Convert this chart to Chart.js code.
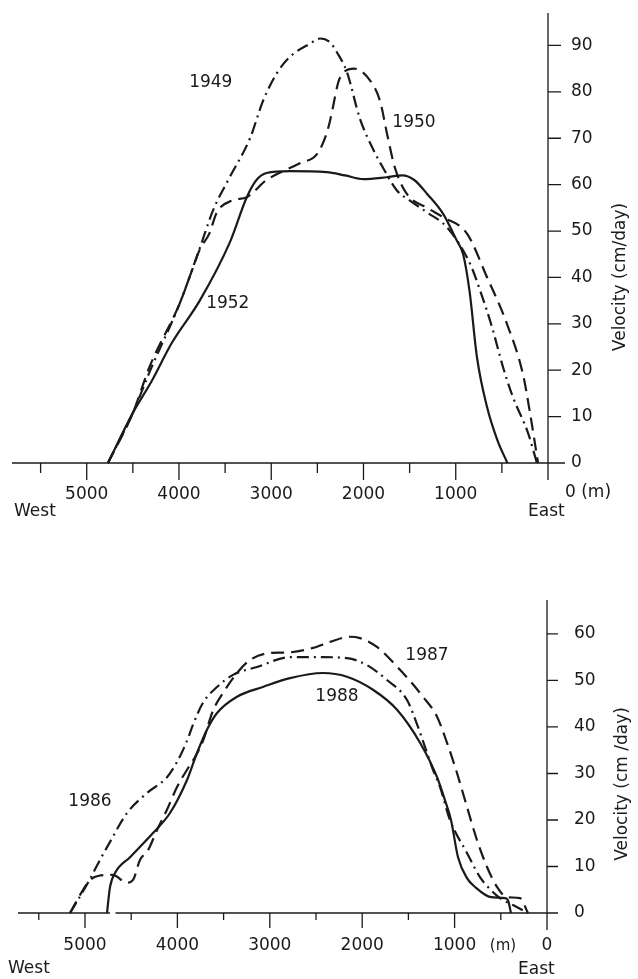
<!DOCTYPE html>
<html lang="en">
<head>
<meta charset="UTF-8">
<title>Velocity profiles</title>
<script src="https://cdn.jsdelivr.net/npm/chart.js"></script>
<style>
  body { margin: 0; background: #fff; }
  #wrap { position: relative; width: 638px; height: 979px; }
  canvas { position: absolute; left: 0; }
  #top-chart { top: 0; }
  #bottom-chart { top: 530px; }
</style>
</head>
<body>
<div id="wrap">
  <canvas id="top-chart" width="638" height="530"></canvas>
  <canvas id="bottom-chart" width="638" height="449"></canvas>
</div>
<script>
// distance from the east margin (m) and surface velocity (cm/day)

// upper panel
var dist1949 = [4770, 4500, 4300, 4000, 3780, 3630, 3450, 3230, 3090, 2940, 2800, 2580, 2470, 2364, 2290, 2180, 2040, 1880, 1790, 1640, 1500, 1310, 1095, 846, 738, 607, 488, 380, 217, 120];
var vel1949  = [0, 10.8, 20.5, 34, 46, 54.5, 61.6, 70, 78, 84, 87.5, 90.4, 91.5, 90.7, 88.6, 84.3, 74.3, 67, 63.7, 58.8, 56.6, 54, 50.8, 43, 37.3, 29.3, 20.7, 14.2, 6.5, 0];

var dist1950 = [4770, 4500, 4320, 3990, 3850, 3775, 3670, 3590, 3420, 3265, 3050, 2690, 2500, 2400, 2360, 2256, 2100, 1930, 1820, 1745, 1660, 1530, 1310, 1140, 880, 660, 445, 270, 195, 108];
var vel1950  = [0, 10.8, 20.7, 34.5, 42, 46, 49.5, 54, 56.6, 57.3, 61, 64.6, 66.7, 71, 74, 83, 85, 82.5, 78, 71, 63.7, 58, 55, 53, 49.5, 40, 30, 19, 10.8, 0];

var dist1952 = [4770, 4500, 4300, 4080, 3775, 3450, 3265, 3160, 3050, 2800, 2400, 2200, 2000, 1750, 1580, 1450, 1310, 1140, 990, 920, 850, 770, 660, 550, 440];
var vel1952  = [0, 10.8, 17.5, 25.8, 35, 47.5, 57.3, 61, 62.5, 62.9, 62.7, 62, 61.2, 61.6, 62, 61, 58, 53.8, 48, 45, 37, 22.8, 12, 5, 0];

// lower panel
var dist1986 = [5162, 4968, 4838, 4729, 4545, 4329, 4113, 4004, 3896, 3831, 3723, 3571, 3398, 3139, 2781, 2424, 2165, 1948, 1732, 1515, 1396, 1234, 1158, 1050, 866, 725, 639, 509, 368, 206];
var vel1986  = [0, 6.5, 11.4, 15.3, 21.5, 25.8, 29.2, 32.5, 37, 40.5, 45.2, 48.6, 51.2, 52.9, 55, 55, 54.8, 53.3, 50.1, 45.8, 40, 30.8, 27.1, 20, 12.9, 7.7, 5.6, 3.2, 1.7, 0];

var dist1987 = [5162, 5050, 4950, 4850, 4700, 4545, 4480, 4405, 4318, 4221, 4113, 4004, 3896, 3810, 3723, 3615, 3506, 3355, 3214, 2998, 2814, 2532, 2348, 2132, 2024, 1840, 1591, 1342, 1190, 1082, 974, 866, 758, 649, 541, 433, 292, 206];
var vel1987  = [0, 4, 7, 8, 8.2, 6.5, 7.1, 11.4, 13.5, 17.8, 22.2, 27.1, 30.8, 33.5, 37, 43.5, 47.3, 51.6, 54.4, 55.9, 56, 57, 58.3, 59.4, 59.1, 57.2, 52.3, 46.5, 42.2, 36.6, 30.1, 22.8, 15.7, 9.9, 5.6, 3.4, 3.2, 0];

var dist1988 = [4762, 4729, 4675, 4513, 4264, 4080, 3896, 3788, 3680, 3571, 3355, 3074, 2781, 2424, 2165, 1883, 1623, 1374, 1190, 1100, 1039, 963, 866, 779, 606, 455, 420, 390];
var vel1988  = [0, 5.6, 8.6, 12, 17.2, 21.5, 28.6, 34.4, 39.4, 43, 46.5, 48.6, 50.5, 51.6, 50.8, 48, 43.7, 36.6, 29.2, 24, 20, 12, 7.5, 5.6, 3.4, 3.2, 2.6, 0];

// axes
var xTickLabels = [5000, 4000, 3000, 2000, 1000, 0];
var xMarks = [0, 500, 1000, 1500, 2000, 2500, 3000, 3500, 4000, 4500, 5000, 5500];
var yTicksTop = [0, 10, 20, 30, 40, 50, 60, 70, 80, 90];
var yTicksBottom = [0, 10, 20, 30, 40, 50, 60];

var FONT = '"DejaVu Sans", sans-serif';
var INK = '#1a1a1a';
var SOLID = [];
var DASHED = [13, 7];
var DASHDOT = [12, 5, 2, 5];

function points(xs, vs) {
  return xs.map(function(x, i) { return { x: x, y: vs[i] }; });
}

function series(label, xs, vs, dash) {
  return {
    label: label,
    data: points(xs, vs),
    borderColor: INK,
    borderWidth: 2.2,
    borderDash: dash,
    pointRadius: 0,
    fill: false,
    clip: false,
    cubicInterpolationMode: 'monotone'
  };
}

// axis lines, tick marks and the loose texts of the figure
var axisDecor = {
  id: 'axisDecor',
  afterDraw: function(chart) {
    var o = chart.options.plugins.axisDecor;
    var ctx = chart.ctx, a = chart.chartArea;
    var xs = chart.scales.x, ys = chart.scales.y;
    ctx.save();
    ctx.strokeStyle = INK;
    ctx.lineWidth = 1.3;
    ctx.setLineDash([]);
    ctx.beginPath();
    if (o.gap) {
      ctx.moveTo(a.left, a.bottom);
      ctx.lineTo(xs.getPixelForValue(o.gap[0]), a.bottom);
      ctx.moveTo(xs.getPixelForValue(o.gap[1]), a.bottom);
    } else {
      ctx.moveTo(a.left, a.bottom);
    }
    ctx.lineTo(a.right + o.xOver, a.bottom);
    ctx.moveTo(a.right, a.top);
    ctx.lineTo(a.right, a.bottom + o.yUnder);
    xMarks.forEach(function(v) {
      var px = xs.getPixelForValue(v);
      ctx.moveTo(px, a.bottom);
      ctx.lineTo(px, a.bottom + (v % 1000 === 0 ? o.major : o.minor));
    });
    o.yTicks.forEach(function(v) {
      var py = ys.getPixelForValue(v);
      ctx.moveTo(a.right, py);
      ctx.lineTo(a.right + o.yTickLen, py);
    });
    ctx.stroke();

    ctx.fillStyle = INK;
    ctx.textBaseline = 'middle';
    o.texts.forEach(function(t) {
      ctx.font = (t.size || 17) + 'px ' + FONT;
      ctx.textAlign = t.align || 'left';
      ctx.fillText(t.text, t.x, t.y);
    });
    ctx.font = '17px ' + FONT;
    ctx.textAlign = 'center';
    o.names.forEach(function(n) {
      ctx.fillText(n.text, xs.getPixelForValue(n.x), ys.getPixelForValue(n.y));
    });
    ctx.save();
    ctx.translate(o.title.x, o.title.y);
    ctx.rotate(-Math.PI / 2);
    ctx.fillText(o.title.text, 0, 0);
    ctx.restore();
    ctx.restore();
  }
};

function makeChart(id, cfg) {
  return new Chart(document.getElementById(id), {
    type: 'line',
    data: { datasets: cfg.datasets },
    plugins: [axisDecor],
    options: {
      responsive: false,
      animation: false,
      layout: { padding: { left: cfg.left, top: cfg.top, right: 0, bottom: 0 } },
      plugins: {
        legend: { display: false },
        tooltip: { enabled: false },
        axisDecor: cfg.decor
      },
      scales: {
        x: {
          type: 'linear',
          reverse: true,
          min: 0,
          max: cfg.xMax,
          afterFit: function(s) { s.height = cfg.xHeight; },
          afterBuildTicks: function(s) { s.ticks = xTickLabels.map(function(v) { return { value: v }; }); },
          // tick marks are drawn by the plugin; tickLength only offsets the labels
          grid: { display: false, drawTicks: true, tickLength: cfg.xPad },
          border: { display: false },
          ticks: {
            autoSkip: false,
            maxRotation: 0,
            padding: 0,
            color: INK,
            font: { family: FONT, size: 17 },
            callback: function(v) { return v === 0 ? cfg.zeroLabel : String(v); }
          }
        },
        y: {
          type: 'linear',
          position: 'right',
          min: 0,
          max: cfg.yMax,
          afterFit: function(s) { s.width = cfg.yWidth; },
          afterBuildTicks: function(s) { s.ticks = cfg.yTicks.map(function(v) { return { value: v }; }); },
          grid: { display: false, drawTicks: true, tickLength: cfg.yPad },
          border: { display: false },
          ticks: {
            padding: 0,
            color: INK,
            font: { family: FONT, size: 17 }
          }
        }
      }
    }
  });
}

makeChart('top-chart', {
  datasets: [
    series('1949', dist1949, vel1949, DASHDOT),
    series('1950', dist1950, vel1950, DASHED),
    series('1952', dist1952, vel1952, SOLID)
  ],
  left: 12, top: 13, xHeight: 67, yWidth: 90,
  xMax: 5810, yMax: 97, xPad: 21, yPad: 23,
  yTicks: yTicksTop,
  zeroLabel: '',
  decor: {
    xOver: 17, yUnder: 14, major: 17, minor: 10, yTickLen: 13,
    yTicks: yTicksTop,
    texts: [
      { text: 'West', x: 14, y: 512 },
      { text: 'East', x: 528, y: 512 },
      { text: '0 (m)', x: 565, y: 493 }
    ],
    names: [
      { text: '1949', x: 3655, y: 82 },
      { text: '1950', x: 1453, y: 73.4 },
      { text: '1952', x: 3471, y: 34.4 }
    ],
    title: { text: 'Velocity (cm/day)', x: 621, y: 277 }
  }
});

makeChart('bottom-chart', {
  datasets: [
    series('1986', dist1986, vel1986, DASHDOT),
    series('1987', dist1987, vel1987, DASHED),
    series('1988', dist1988, vel1988, SOLID)
  ],
  left: 18, top: 70, xHeight: 66, yWidth: 91,
  xMax: 5725, yMax: 67.3, xPad: 22, yPad: 27,
  yTicks: yTicksBottom,
  zeroLabel: '0',
  decor: {
    xOver: 11, yUnder: 17, major: 15, minor: 7, yTickLen: 11,
    yTicks: yTicksBottom,
    gap: [4730, 4670],
    texts: [
      { text: 'West', x: 8, y: 439 },
      { text: 'East', x: 518, y: 440 },
      { text: '(m)', x: 503, y: 416, align: 'center', size: 15 }
    ],
    names: [
      { text: '1986', x: 4946, y: 23.9 },
      { text: '1987', x: 1299, y: 55.3 },
      { text: '1988', x: 2273, y: 46.5 }
    ],
    title: { text: 'Velocity (cm /day)', x: 623, y: 254 }
  }
});
</script>
</body>
</html>
